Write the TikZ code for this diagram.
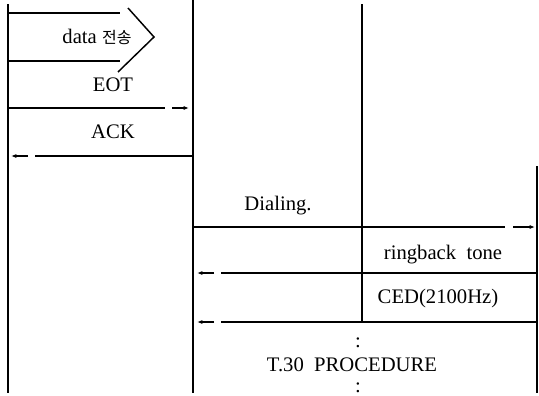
\documentclass[tikz,border=0pt]{standalone}
\usepackage{fontspec}
\setmainfont{Liberation Serif}
\newfontfamily\kr{Noto Sans CJK KR}
\usetikzlibrary{arrows.meta,calc}
\begin{document}
\begin{tikzpicture}[x=0.75pt,y=-0.75pt,
  life/.style={line width=0.9pt},
  msgline/.style={line width=0.8pt},
  tip/.style={line width=0.8pt,-{Latex[length=4pt,width=3pt]}},
  lbl/.style={font=\fontsize{15.5}{17}\selectfont,inner sep=0pt},
  chev/.style={line width=1.1pt,line join=miter}]
\useasboundingbox (0,0) rectangle (539,396);
% lifelines
\coordinate (L1t) at (8,4);   \coordinate (L1b) at (8,393);
\coordinate (L2t) at (193,0); \coordinate (L2b) at (193,393);
\coordinate (L3t) at (362,4); \coordinate (L3b) at (362,322);
\coordinate (L4t) at (537,166); \coordinate (L4b) at (537,393);
\draw[life] (L1t) -- (L1b);
\draw[life] (L2t) -- (L2b);
\draw[life] (L3t) -- (L3b);
\draw[life] (L4t) -- (L4b);
% data transfer chevron
\coordinate (d1) at (8,13);  \coordinate (d2) at (120,13);
\coordinate (d3) at (8,61);  \coordinate (d4) at (120,61);
\coordinate (c1) at (128,8); \coordinate (c2) at (154,37); \coordinate (c3) at (118,72);
\draw[msgline] (d1) -- (d2);
\draw[msgline] (d3) -- (d4);
\draw[chev] (c1) -- (c2) -- (c3);
\node[lbl] (data) at (97,37) {data {\kr\fontsize{12}{14}\selectfont 전송}};
% EOT
\node[lbl] (eot) at (113,85) {EOT};
\coordinate (e1) at (8,108); \coordinate (e2) at (165,108);
\coordinate (e3) at (172,108); \coordinate (e4) at (189,108);
\draw[msgline] (e1) -- (e2);
\draw[tip] (e3) -- (e4);
% ACK
\node[lbl] (ack) at (113,132) {ACK};
\coordinate (a1) at (193,156); \coordinate (a2) at (35,156);
\coordinate (a3) at (28,156); \coordinate (a4) at (11,156);
\draw[msgline] (a1) -- (a2);
\draw[tip] (a3) -- (a4);
% Dialing
\node[lbl] (dial) at (278,206) {Dialing.};
\coordinate (g1) at (193,227); \coordinate (g2) at (505,227);
\coordinate (g3) at (513,227); \coordinate (g4) at (535,227);
\draw[msgline] (g1) -- (g2);
\draw[tip] (g3) -- (g4);
% ringback tone
\node[lbl] (ring) at (443,255) {ringback\ \ tone};
\coordinate (r1) at (537,273); \coordinate (r2) at (221,273);
\coordinate (r3) at (214,273); \coordinate (r4) at (197,273);
\draw[msgline] (r1) -- (r2);
\draw[tip] (r3) -- (r4);
% CED
\node[lbl] (ced) at (438,299) {CED(2100Hz)};
\coordinate (k1) at (537,322); \coordinate (k2) at (221,322);
\coordinate (k3) at (214,322); \coordinate (k4) at (197,322);
\draw[msgline] (k1) -- (k2);
\draw[tip] (k3) -- (k4);
% T.30
\node[lbl] (col1) at (358,343) {:};
\node[lbl] (t30) at (352,365) {T.30\ \ PROCEDURE};
\node[lbl] (col2) at (358,388) {:};
\end{tikzpicture}
\end{document}
